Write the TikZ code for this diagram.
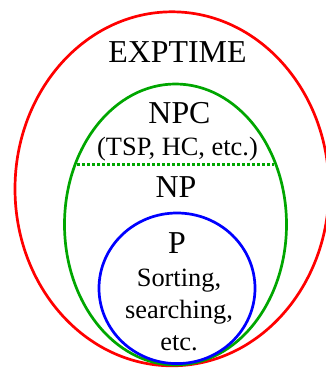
\documentclass[tikz,border=0pt]{standalone}
\usepackage{fontspec}
\setmainfont{Liberation Serif}

\begin{document}
\begin{tikzpicture}[x=1bp,y=-1bp,line width=2.7bp,
  big/.style={font=\fontsize{32}{36}\selectfont,anchor=base,inner sep=0pt},
  small/.style={font=\fontsize{26.5}{32}\selectfont,anchor=base,inner sep=0pt,align=center}]
  \useasboundingbox (0,0) rectangle (326,368);
  % las tres clases anidadas
  \draw[red] (172,188.8) ellipse[x radius=157,y radius=177];
  \draw[green!65!black] (175.5,224.5) ellipse[x radius=111,y radius=140.5];
  \draw[blue] (177,288.3) ellipse[x radius=78,y radius=75.3];
  % frontera entre NPC y NP
  \coordinate (npcl) at (77,164.5);
  \coordinate (npcr) at (274,164.5);
  \draw[green!65!black,dash pattern=on 2.6bp off 2.4bp] (npcl) -- (npcr);
  % rotulos
  \node[big] (exptime) at (177.5,62) {EXPTIME};
  \node[big] (npc) at (179.5,123) {NPC};
  \node[small] (npcej) at (177.5,155) {(TSP, HC, etc.)};
  \node[big] (np) at (176,197) {NP};
  \node[big] (p) at (177,253) {P};
  % la base del nodo es la ultima linea
  \node[small] (pej) at (179,350) {Sorting,\\searching,\\etc.};
\end{tikzpicture}
\end{document}
